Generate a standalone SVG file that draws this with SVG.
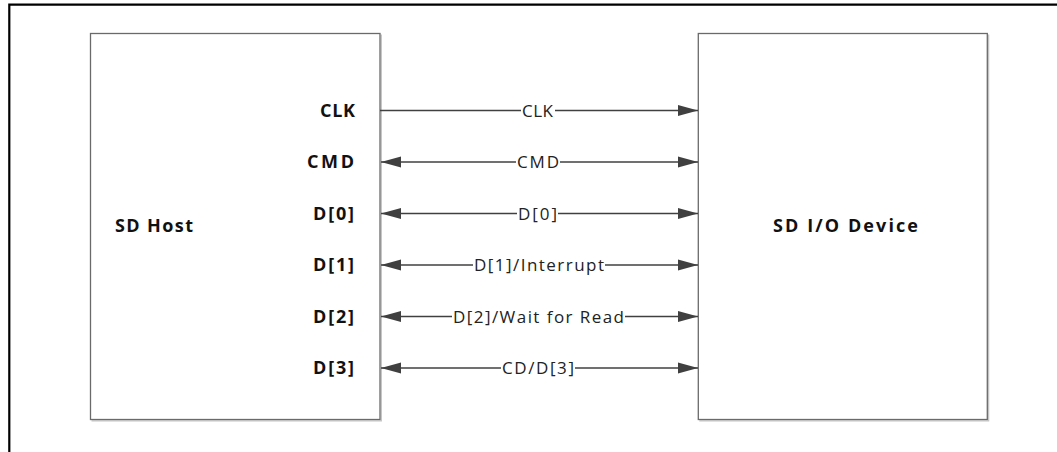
<svg xmlns="http://www.w3.org/2000/svg" width="1057" height="452" viewBox="0 0 1057 452">
<style>
.frame{fill:none;stroke:#000;stroke-width:2.2}
.box{fill:#fff;stroke:#6a6a6a;stroke-width:1.3}
.shadow{fill:none;stroke:#c4c4c4;stroke-width:1.3}
.title{font-family:"Open Sans","Liberation Sans",sans-serif;font-weight:bold;font-size:18px;fill:#111}
.pin{font-family:"Open Sans","Liberation Sans",sans-serif;font-weight:bold;font-size:18px;fill:#111;text-anchor:end}
.sig{font-family:"Open Sans","Liberation Sans",sans-serif;font-size:17px;fill:#222}
.line{stroke:#404040;stroke-width:1.3;fill:none}
.bg{fill:#fff}
</style>
<defs>
<marker id="ah" markerUnits="userSpaceOnUse" markerWidth="22" markerHeight="14" viewBox="0 -7 22 14" refX="20" refY="0" orient="auto-start-reverse">
<path d="M20,0 L0,-5.5 L0,5.5 Z" fill="#404040"/>
</marker>
</defs>
<path class="frame" d="M9.3,452 V4.6 H1057"/>
<g id="host">
<path class="shadow" d="M381.3,34.5 V420.8 H91.5"/>
<rect class="box" x="90.5" y="33.5" width="289.5" height="386"/>
<text class="title" x="115" y="232" textLength="78" lengthAdjust="spacing">SD Host</text>
<text class="pin" x="355" y="116.5" textLength="35" lengthAdjust="spacing">CLK</text>
<text class="pin" x="354" y="168" textLength="47" lengthAdjust="spacing">CMD</text>
<text class="pin" x="354" y="219.5" textLength="41" lengthAdjust="spacing">D[0]</text>
<text class="pin" x="354" y="271" textLength="41" lengthAdjust="spacing">D[1]</text>
<text class="pin" x="354" y="322.5" textLength="41" lengthAdjust="spacing">D[2]</text>
<text class="pin" x="354" y="374" textLength="41" lengthAdjust="spacing">D[3]</text>
</g>
<g id="device">
<path class="shadow" d="M988.6,34.5 V420.8 H699.3"/>
<rect class="box" x="698.3" y="33.5" width="289" height="386"/>
<text class="title" x="773" y="232" textLength="145" lengthAdjust="spacing">SD I/O Device</text>
</g>
<g id="connectors">
<line class="line" x1="380" y1="110.5" x2="698" y2="110.5" marker-end="url(#ah)"/>
<line class="line" x1="381" y1="162" x2="698" y2="162" marker-start="url(#ah)" marker-end="url(#ah)"/>
<line class="line" x1="381" y1="213.5" x2="698" y2="213.5" marker-start="url(#ah)" marker-end="url(#ah)"/>
<line class="line" x1="381" y1="265" x2="698" y2="265" marker-start="url(#ah)" marker-end="url(#ah)"/>
<line class="line" x1="381" y1="316.5" x2="698" y2="316.5" marker-start="url(#ah)" marker-end="url(#ah)"/>
<line class="line" x1="381" y1="368" x2="698" y2="368" marker-start="url(#ah)" marker-end="url(#ah)"/>
<rect class="bg" x="521" y="102" width="34" height="17"/>
<text class="sig" x="522" y="116.5" textLength="31" lengthAdjust="spacing">CLK</text>
<rect class="bg" x="516" y="153.5" width="44" height="17"/>
<text class="sig" x="517" y="168" textLength="42" lengthAdjust="spacing">CMD</text>
<rect class="bg" x="517" y="205" width="41" height="17"/>
<text class="sig" x="518" y="219.5" textLength="39" lengthAdjust="spacing">D[0]</text>
<rect class="bg" x="473" y="256.5" width="132" height="17"/>
<text class="sig" x="474" y="271" textLength="130" lengthAdjust="spacing">D[1]/Interrupt</text>
<rect class="bg" x="452" y="308" width="173" height="17"/>
<text class="sig" x="453" y="322.5" textLength="171" lengthAdjust="spacing">D[2]/Wait for Read</text>
<rect class="bg" x="501" y="359.5" width="74" height="17"/>
<text class="sig" x="502" y="374" textLength="72" lengthAdjust="spacing">CD/D[3]</text>
</g>
</svg>
